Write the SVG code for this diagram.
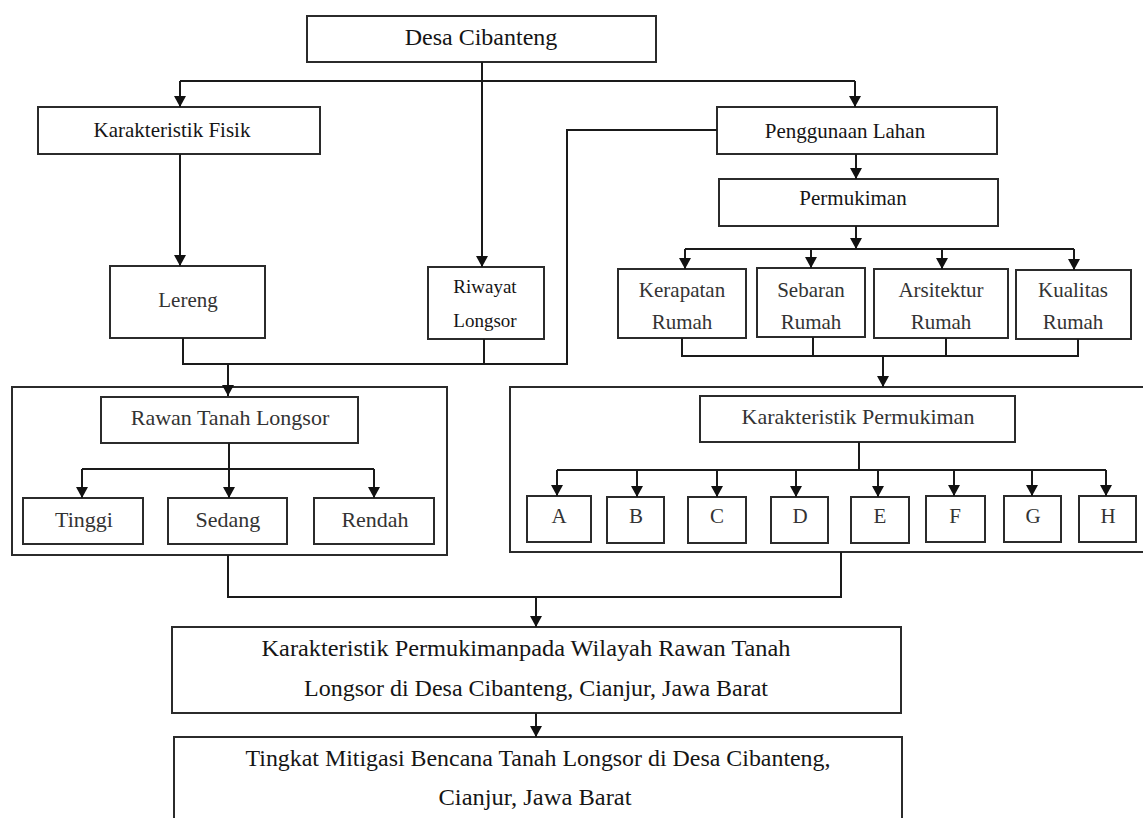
<svg xmlns="http://www.w3.org/2000/svg" width="1143" height="818" viewBox="0 0 1143 818">
<defs>
<style>
.box{fill:#fff;stroke:#2b2b2b;stroke-width:2}
.frame{fill:none;stroke:#2b2b2b;stroke-width:2}
.ln{fill:none;stroke:#1a1a1a;stroke-width:2}
.arr{fill:none;stroke:#1a1a1a;stroke-width:2;marker-end:url(#ah)}
text{font-family:"Liberation Serif","Times New Roman",serif;fill:#151515;text-anchor:middle}
.t24{font-size:24px}
.t21{font-size:21px}
.t19{font-size:19px}
.t22{font-size:22px}
.t23{font-size:23px}
.gray{fill:#333}
</style>
<marker id="ah" viewBox="0 0 10 11" refX="10" refY="5.5" markerWidth="11" markerHeight="12" markerUnits="userSpaceOnUse" orient="auto">
<path d="M0,0 L10,5.5 L0,11 z" fill="#111"/>
</marker>
</defs>
<rect width="1143" height="818" fill="#fff"/>

<g id="frame-rawan"><rect class="frame" x="12" y="387" width="435" height="168"/></g>
<g id="frame-permukiman"><rect class="frame" x="510" y="387" width="640" height="165"/></g>

<g id="desa"><rect class="box" x="307" y="16" width="349" height="46"/><text class="t24" x="481" y="45">Desa Cibanteng</text></g>
<g id="karakteristik-fisik"><rect class="box" x="38" y="107" width="282" height="47"/><text class="t21" x="172" y="137">Karakteristik Fisik</text></g>
<g id="penggunaan-lahan"><rect class="box" x="717" y="107" width="280" height="47"/><text class="t21" x="845" y="138">Penggunaan Lahan</text></g>
<g id="permukiman"><rect class="box" x="719" y="179" width="279" height="47"/><text class="t21" x="853" y="205">Permukiman</text></g>
<g id="lereng"><rect class="box" x="110" y="266" width="155" height="72"/><text class="t21 gray" x="188" y="307">Lereng</text></g>
<g id="riwayat-longsor"><rect class="box" x="428" y="267" width="116" height="72"/><text class="t19" x="485" y="293">Riwayat</text><text class="t19" x="485" y="327">Longsor</text></g>
<g id="kerapatan"><rect class="box" x="618" y="269" width="128" height="69"/><text class="t21 gray" x="682" y="297">Kerapatan</text><text class="t21 gray" x="682" y="329">Rumah</text></g>
<g id="sebaran"><rect class="box" x="757" y="268" width="108" height="69"/><text class="t21 gray" x="811" y="297">Sebaran</text><text class="t21 gray" x="811" y="329">Rumah</text></g>
<g id="arsitektur"><rect class="box" x="874" y="269" width="134" height="69"/><text class="t21 gray" x="941" y="297">Arsitektur</text><text class="t21 gray" x="941" y="329">Rumah</text></g>
<g id="kualitas"><rect class="box" x="1016" y="270" width="115" height="69"/><text class="t21 gray" x="1073" y="297">Kualitas</text><text class="t21 gray" x="1073" y="329">Rumah</text></g>

<g id="rawan-tanah-longsor"><rect class="box" x="101" y="397" width="257" height="46"/><text class="t22 gray" x="230" y="425">Rawan Tanah Longsor</text></g>
<g id="tinggi"><rect class="box" x="23" y="498" width="120" height="46"/><text class="t22 gray" x="84" y="527">Tinggi</text></g>
<g id="sedang"><rect class="box" x="168" y="498" width="119" height="46"/><text class="t22 gray" x="228" y="527">Sedang</text></g>
<g id="rendah"><rect class="box" x="314" y="498" width="120" height="46"/><text class="t22 gray" x="375" y="527">Rendah</text></g>

<g id="karakteristik-permukiman"><rect class="box" x="700" y="396" width="315" height="46"/><text class="t22 gray" x="858" y="424">Karakteristik Permukiman</text></g>
<g id="A"><rect class="box" x="527" y="496" width="64" height="46"/><text class="t21 gray" x="559" y="523">A</text></g>
<g id="B"><rect class="box" x="607" y="497" width="57" height="46"/><text class="t21 gray" x="636" y="523">B</text></g>
<g id="C"><rect class="box" x="688" y="497" width="58" height="46"/><text class="t21 gray" x="717" y="523">C</text></g>
<g id="D"><rect class="box" x="771" y="497" width="57" height="46"/><text class="t21 gray" x="800" y="523">D</text></g>
<g id="E"><rect class="box" x="851" y="497" width="58" height="46"/><text class="t21 gray" x="880" y="523">E</text></g>
<g id="F"><rect class="box" x="926" y="496" width="59" height="46"/><text class="t21 gray" x="955" y="523">F</text></g>
<g id="G"><rect class="box" x="1004" y="496" width="57" height="46"/><text class="t21 gray" x="1033" y="523">G</text></g>
<g id="H"><rect class="box" x="1079" y="496" width="57" height="46"/><text class="t21 gray" x="1108" y="523">H</text></g>

<g id="hasil"><rect class="box" x="172" y="627" width="729" height="86"/>
<text class="t23" x="526" y="656" textLength="529" lengthAdjust="spacingAndGlyphs">Karakteristik Permukimanpada Wilayah Rawan Tanah</text>
<text class="t23" x="536" y="696" textLength="464" lengthAdjust="spacingAndGlyphs">Longsor di Desa Cibanteng, Cianjur, Jawa Barat</text></g>
<g id="mitigasi"><rect class="box" x="174" y="737" width="728" height="100"/>
<text class="t23" x="538" y="766" textLength="585" lengthAdjust="spacingAndGlyphs">Tingkat Mitigasi Bencana Tanah Longsor di Desa Cibanteng,</text>
<text class="t23" x="535" y="805" textLength="193" lengthAdjust="spacingAndGlyphs">Cianjur, Jawa Barat</text></g>

<g id="connectors">
<path class="ln" d="M482,62 V81 M180,81 H855"/>
<path class="arr" d="M180,81 V107"/>
<path class="arr" d="M855,81 V107"/>
<path class="arr" d="M482,81 V267"/>
<path class="arr" d="M180,154 V266"/>
<path class="ln" d="M183,338 V364 H567 V130 H717 M484,339 V364"/>
<path class="arr" d="M228,364 V396"/>
<path class="arr" d="M856,154 V179"/>
<path class="ln" d="M685,249 H1074"/>
<path class="arr" d="M856,226 V249"/>
<path class="arr" d="M685,249 V269"/>
<path class="arr" d="M811,249 V268"/>
<path class="arr" d="M942,249 V269"/>
<path class="arr" d="M1074,249 V270"/>
<path class="ln" d="M682,338 V356 H1078 V339 M813,337 V356 M946,338 V356"/>
<path class="arr" d="M883,356 V387"/>
<path class="ln" d="M229,443 V469 M82,469 H374"/>
<path class="arr" d="M229,469 V498"/>
<path class="arr" d="M82,469 V498"/>
<path class="arr" d="M374,469 V498"/>
<path class="ln" d="M859,442 V470 M557,470 H1106"/>
<path class="arr" d="M557,470 V496"/>
<path class="arr" d="M637,470 V497"/>
<path class="arr" d="M717,470 V497"/>
<path class="arr" d="M796,470 V497"/>
<path class="arr" d="M878,470 V497"/>
<path class="arr" d="M954,470 V496"/>
<path class="arr" d="M1032,470 V496"/>
<path class="arr" d="M1106,470 V496"/>
<path class="ln" d="M228,555 V597 H841 V552"/>
<path class="arr" d="M536,597 V627"/>
<path class="arr" d="M536,713 V737"/>
</g>
</svg>
